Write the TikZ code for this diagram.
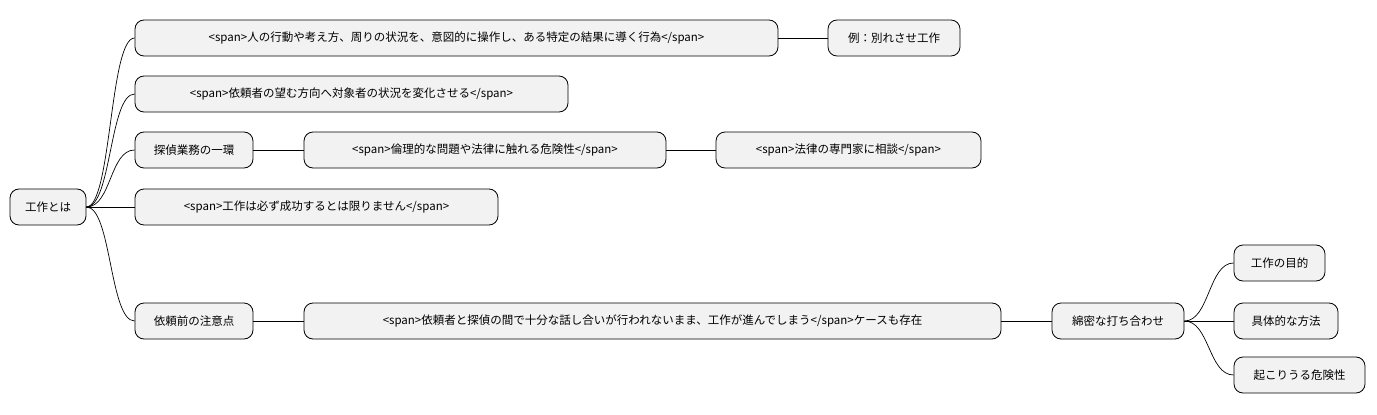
\documentclass[tikz,border=0pt]{standalone}
\usepackage{fontspec}
\setmainfont{Noto Sans CJK JP}
\begin{document}
\begin{tikzpicture}[x=1pt,y=-1pt,
 box/.style={draw=black,fill=gray!10,rounded corners=9pt,minimum height=36pt,inner sep=0pt,font=\fontsize{11.5}{13}\selectfont,line width=0.8pt},
 link/.style={draw=black,line width=0.7pt}]
\useasboundingbox (0,0) rectangle (1377,415);
\newcommand\bx[5]{\node[box,minimum width=#4-#3] (#1) at ({(#3+#4)/2},#5) {#2};}
\bx{root}{工作とは}{10}{86}{207}
\bx{n1}{<span>人の行動や考え方、周りの状況を、意図的に操作し、ある特定の結果に導く行為</span>}{135}{778}{38}
\bx{n1a}{例：別れさせ工作}{828}{960}{38}
\bx{n2}{<span>依頼者の望む方向へ対象者の状況を変化させる</span>}{135}{568}{94}
\bx{n3}{探偵業務の一環}{135}{253}{150}
\bx{n3a}{<span>倫理的な問題や法律に触れる危険性</span>}{304}{666}{150}
\bx{n3b}{<span>法律の専門家に相談</span>}{716}{981}{150}
\bx{n4}{<span>工作は必ず成功するとは限りません</span>}{135}{498}{207}
\bx{n5}{依頼前の注意点}{135}{253}{321}
\bx{n5a}{<span>依頼者と探偵の間で十分な話し合いが行われないまま、工作が進んでしまう</span>ケースも存在}{304}{1001}{321}
\bx{n5b}{綿密な打ち合わせ}{1052}{1184}{321}
\bx{c1}{工作の目的}{1234}{1325}{263}
\bx{c2}{具体的な方法}{1234}{1338}{321}
\bx{c3}{起こりうる危険性}{1234}{1365}{375}
\foreach \a/\b in {root/n1,root/n2,root/n3,root/n4,root/n5,n1/n1a,n3/n3a,n3a/n3b,n5/n5a,n5a/n5b,n5b/c1,n5b/c2,n5b/c3}
 \draw[link] (\a.east) .. controls ([xshift=25pt]\a.east) and ([xshift=-25pt]\b.west) .. (\b.west);
\end{tikzpicture}
\end{document}
